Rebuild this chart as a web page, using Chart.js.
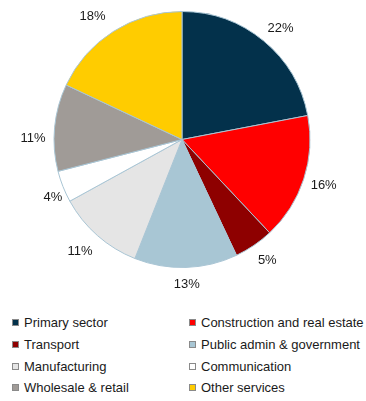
<!DOCTYPE html>
<html>
<head>
<meta charset="utf-8">
<script src="https://cdn.jsdelivr.net/npm/chart.js@4/dist/chart.umd.min.js"></script>
<style>
  html, body { margin: 0; padding: 0; background: #fff; }
  body { width: 366px; height: 401px; position: relative; overflow: hidden;
         font-family: "Liberation Sans", Arial, sans-serif; color: #1a1a1a; }
  #wrap { position: absolute; left: 0; top: 0; width: 366px; height: 300px; }
  #legend { position: absolute; left: 12px; top: 312px; width: 354px;
            display: grid; grid-template-columns: 177px 177px; grid-auto-rows: 21.7px; }
  .item { display: flex; align-items: center; font-size: 13px; white-space: nowrap; }
  .box { width: 5px; height: 5px; border: 1px solid #8a8a8a; margin-right: 5px; flex: none; }
</style>
</head>
<body>
<div id="wrap"><canvas id="pie"></canvas></div>
<div id="legend"></div>
<script>
// sectors listed clockwise from 12 o'clock
const sectors = [
  'Primary sector', 'Construction and real estate', 'Transport',
  'Public admin & government', 'Manufacturing', 'Communication',
  'Wholesale & retail', 'Other services'
];
const shares = [22, 16, 5, 13, 11, 4, 11, 18];
const colours = ['#03314b', '#ff0000', '#8e0000', '#a8c6d4', '#e5e5e5', '#ffffff', '#a09b97', '#ffcc00'];

// hand tweaks to the outside labels, in px (dx, dy)
const labelNudge = [[3, -1], [-1, 2], [3, 2], [0, 1], [-3, 4], [7, 5], [0, 12], [-9, -2]];

// percentage text just outside each slice: the text box is pushed out
// from the rim along the slice's mid angle
const outsideLabels = {
  id: 'outsideLabels',
  afterDatasetsDraw(chart) {
    const { ctx } = chart;
    const meta = chart.getDatasetMeta(0);
    ctx.save();
    ctx.font = '13px "Liberation Sans", Arial, sans-serif';
    ctx.fillStyle = '#1a1a1a';
    ctx.textAlign = 'center';
    ctx.textBaseline = 'middle';
    meta.data.forEach((arc, i) => {
      const { x, y, startAngle, endAngle, outerRadius } = arc.getProps(['x', 'y', 'startAngle', 'endAngle', 'outerRadius'], true);
      const mid = (startAngle + endAngle) / 2;
      const text = shares[i] + '%';
      const w = ctx.measureText(text).width;
      const h = 13;
      const r = outerRadius + 9;
      const cx = x + Math.cos(mid) * r + Math.cos(mid) * w / 2 + labelNudge[i][0];
      const cy = y + Math.sin(mid) * r + Math.sin(mid) * h / 2 + labelNudge[i][1];
      ctx.fillText(text, cx, cy);
    });
    ctx.restore();
  }
};

new Chart(document.getElementById('pie'), {
  type: 'pie',
  data: {
    labels: sectors,
    datasets: [{
      data: shares,
      backgroundColor: colours,
      borderColor: '#a9c5d4',
      borderWidth: 1
    }]
  },
  options: {
    responsive: true,
    maintainAspectRatio: false,
    animation: false,
    layout: { padding: { top: 11, bottom: 32, left: 53, right: 55 } },
    plugins: { legend: { display: false }, tooltip: { enabled: false } }
  },
  plugins: [outsideLabels]
});

// two-column legend under the pie
const legend = document.getElementById('legend');
sectors.forEach((name, i) => {
  const item = document.createElement('div');
  item.className = 'item';
  const box = document.createElement('span');
  box.className = 'box';
  box.style.background = colours[i];
  item.appendChild(box);
  item.appendChild(document.createTextNode(name));
  legend.appendChild(item);
});
</script>
</body>
</html>
